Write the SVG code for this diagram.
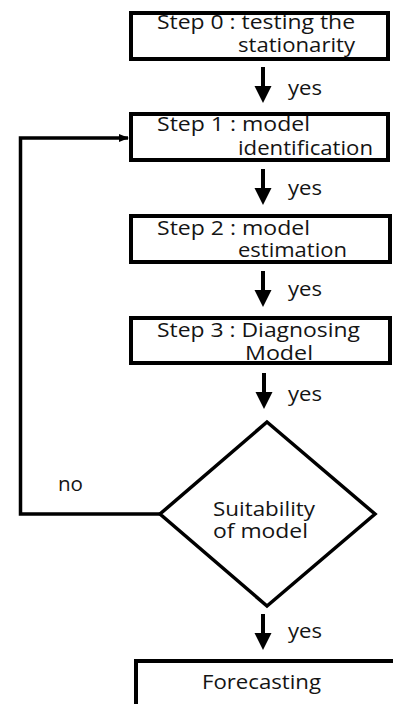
<svg xmlns="http://www.w3.org/2000/svg" width="393" height="704" viewBox="0 0 393 704">
<style>
.box{fill:#fff;stroke:#000;stroke-width:4}
.dia{fill:#fff;stroke:#000;stroke-width:3.5}
.t{font-family:"Open Sans","Noto Sans","DejaVu Sans",sans-serif;font-size:19.5px;fill:#141414}
.line{fill:none;stroke:#000;stroke-width:3.5}
.shaft{stroke:#000;stroke-width:4}
</style>
<defs>
<marker id="ah" markerWidth="10" markerHeight="10" refX="9" refY="5" orient="auto" markerUnits="userSpaceOnUse">
<path d="M0,1 L10,5 L0,9 Z" fill="#000"/>
</marker>
<path id="down" d="M-8.5,0 L8.5,0 L0,17 Z" fill="#000"/>
</defs>
<rect width="393" height="704" fill="#fff"/>
<g id="connectors">
<g id="a0"><line class="shaft" x1="263" y1="67" x2="263" y2="88"/><use href="#down" x="263" y="86"/><text class="t" x="288" y="95" textLength="34" lengthAdjust="spacingAndGlyphs">yes</text></g>
<g id="a1"><line class="shaft" x1="263" y1="169" x2="263" y2="190"/><use href="#down" x="263" y="188"/><text class="t" x="288" y="195" textLength="34" lengthAdjust="spacingAndGlyphs">yes</text></g>
<g id="a2"><line class="shaft" x1="263" y1="271" x2="263" y2="292"/><use href="#down" x="263" y="290"/><text class="t" x="288" y="296" textLength="34" lengthAdjust="spacingAndGlyphs">yes</text></g>
<g id="a3"><line class="shaft" x1="264" y1="373" x2="264" y2="394"/><use href="#down" x="264" y="392"/><text class="t" x="288" y="401" textLength="34" lengthAdjust="spacingAndGlyphs">yes</text></g>
<g id="a4"><line class="shaft" x1="263" y1="614" x2="263" y2="635"/><use href="#down" x="263" y="633"/><text class="t" x="288" y="638" textLength="34" lengthAdjust="spacingAndGlyphs">yes</text></g>
<g id="fb"><polyline class="line" points="160,514 20.5,514 20.5,138 128,138" marker-end="url(#ah)"/><text class="t" x="58" y="491" textLength="25" lengthAdjust="spacingAndGlyphs">no</text></g>
</g>
<g id="step0"><rect class="box" x="131" y="13" width="257" height="46"/><text class="t" x="157" y="29" textLength="198" lengthAdjust="spacingAndGlyphs">Step 0 : testing the</text><text class="t" x="238" y="52" textLength="117" lengthAdjust="spacingAndGlyphs">stationarity</text></g>
<g id="step1"><rect class="box" x="131" y="114" width="257" height="46"/><text class="t" x="157" y="131" textLength="153" lengthAdjust="spacingAndGlyphs">Step 1 : model</text><text class="t" x="238" y="155" textLength="135" lengthAdjust="spacingAndGlyphs">identification</text></g>
<g id="step2"><rect class="box" x="131" y="216" width="259" height="46"/><text class="t" x="157" y="235" textLength="153" lengthAdjust="spacingAndGlyphs">Step 2 : model</text><text class="t" x="238" y="257" textLength="109" lengthAdjust="spacingAndGlyphs">estimation</text></g>
<g id="step3"><rect class="box" x="131" y="318" width="259" height="45"/><text class="t" x="157" y="337" textLength="203" lengthAdjust="spacingAndGlyphs">Step 3 : Diagnosing</text><text class="t" x="245" y="360" textLength="68" lengthAdjust="spacingAndGlyphs">Model</text></g>
<g id="decision"><polygon class="dia" points="267,422 375,514 267,606 160,514"/><text class="t" x="213" y="516" textLength="102" lengthAdjust="spacingAndGlyphs">Suitability</text><text class="t" x="213" y="538" textLength="95" lengthAdjust="spacingAndGlyphs">of model</text></g>
<g id="forecast"><rect class="box" x="136" y="661" width="270" height="60"/><text class="t" x="202" y="689" textLength="119" lengthAdjust="spacingAndGlyphs">Forecasting</text></g>
</svg>
